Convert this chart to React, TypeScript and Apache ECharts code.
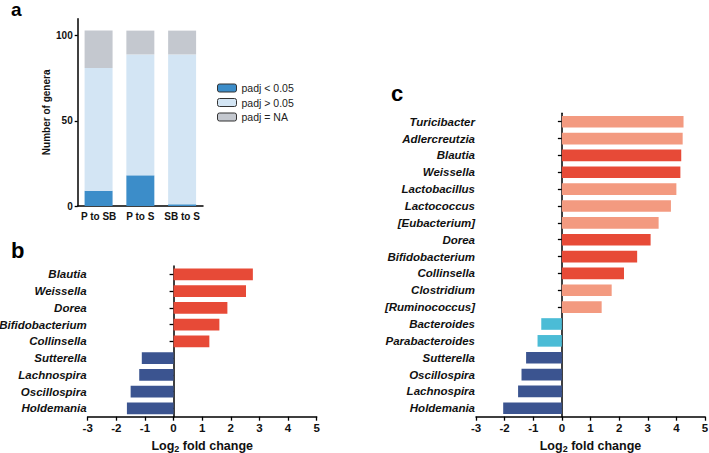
import React, { useEffect, useRef } from "react";
import * as echarts from "echarts";

// Panel a: number of genera per comparison
const comparisons = ["P to SB", "P to S", "SB to S"];
const sigCounts = [9, 18, 1];
const nonSigCounts = [72, 71, 88];
const naCounts = [22, 14, 14];
const aTicks = [0, 50, 100];

// Panel b: log2 fold change (P to SB)
const bGenera = ["Blautia", "Weissella", "Dorea", "Bifidobacterium", "Collinsella", "Sutterella", "Lachnospira", "Oscillospira", "Holdemania"];
const bValues = [2.77, 2.53, 1.88, 1.6, 1.25, -1.11, -1.2, -1.5, -1.63];

// Panel c: log2 fold change (P to S)
const cGenera = ["Turicibacter", "Adlercreutzia", "Blautia", "Weissella", "Lactobacillus", "Lactococcus", "[Eubacterium]", "Dorea", "Bifidobacterium", "Collinsella", "Clostridium", "[Ruminococcus]", "Bacteroides", "Parabacteroides", "Sutterella", "Oscillospira", "Lachnospira", "Holdemania"];
const cValues = [4.25, 4.22, 4.17, 4.14, 4.0, 3.81, 3.38, 3.1, 2.63, 2.17, 1.74, 1.39, -0.72, -0.85, -1.25, -1.41, -1.53, -2.05];

const FONT = '"Liberation Sans", Arial, Helvetica, sans-serif';
const RED = "#e74a37";
const NAVY = "#3b5490";
const SALMON = "#f39a80";
const CYAN = "#4bbcd6";
const BLUE = "#3c8dc9";
const LIGHT = "#d3e5f4";
const GRAY = "#c4c8cf";

export default function App() {
  const ref = useRef<HTMLDivElement>(null);
  useEffect(() => {
    if (!ref.current) return;
    const chart = echarts.init(ref.current, undefined, { renderer: "svg" });

    const catLabelAxis = (grid: number, data: string[]) => ({
      type: "category",
      gridIndex: grid,
      data,
      inverse: true,
      position: "left",
      axisLine: { show: false, onZero: false },
      axisTick: { show: false },
      axisLabel: {
        margin: 1,
        interval: 0,
        fontFamily: FONT,
        fontStyle: "italic",
        fontWeight: "bold",
        fontSize: 11.5,
        color: "#111",
      },
      splitLine: { show: false },
    });
    const zeroAxis = (grid: number, data: string[]) => ({
      type: "category",
      gridIndex: grid,
      data,
      inverse: true,
      position: "left",
      axisLine: { show: true, onZero: true, lineStyle: { color: "#000", width: 1.5 } },
      axisTick: { show: true, interval: 0, alignWithLabel: true, length: 4, lineStyle: { color: "#000", width: 1.3 } },
      axisLabel: { show: false },
      splitLine: { show: false },
    });
    const fcAxis = (grid: number) => ({
      type: "value",
      gridIndex: grid,
      min: -3,
      max: 5,
      interval: 1,
      name: "Log{s|2} fold change",
      nameLocation: "middle",
      nameGap: 21,
      nameTextStyle: {
        fontFamily: FONT,
        fontWeight: "bold",
        fontSize: 12.5,
        color: "#111",
        rich: {
          s: { fontFamily: FONT, fontWeight: "bold", fontSize: 9, color: "#111", verticalAlign: "bottom", padding: [7, 0, 0, 0] },
        },
      },
      axisLine: { show: true, onZero: false, lineStyle: { color: "#000", width: 1.5 } },
      axisTick: { show: true, length: 4, lineStyle: { color: "#000", width: 1.3 } },
      axisLabel: { margin: 5, fontFamily: FONT, fontWeight: "bold", fontSize: 11.5, color: "#111" },
      splitLine: { show: false },
    });

    const cColor = (name: string, v: number) => {
      const shared = bGenera.includes(name);
      if (v >= 0) return shared ? RED : SALMON;
      return shared ? NAVY : CYAN;
    };

    const gridBase = { containLabel: false, outerBoundsMode: "none" };

    chart.setOption({
      animation: false,
      textStyle: { fontFamily: FONT },
      grid: [
        { ...gridBase, left: 77.7, top: 18.7, width: 125.3, height: 187.3 },
        { ...gridBase, left: 87.7, top: 266, width: 229, height: 150.7 },
        { ...gridBase, left: 476, top: 113.3, width: 229, height: 303.4 },
      ],
      legend: {
        orient: "vertical",
        left: 217,
        top: 82,
        padding: 0,
        itemWidth: 19,
        itemHeight: 8,
        itemGap: 2.5,
        selectedMode: false,
        itemStyle: { borderColor: "#333", borderWidth: 1 },
        textStyle: { fontFamily: FONT, fontSize: 10.5, color: "#222", lineHeight: 12 },
        data: ["padj < 0.05", "padj > 0.05", "padj = NA"],
      },
      xAxis: [
        {
          type: "category",
          gridIndex: 0,
          data: comparisons,
          axisLine: { show: true, lineStyle: { color: "#000", width: 1.5 } },
          axisTick: { show: false },
          axisLabel: { interval: 0, hideOverlap: false, margin: 5, fontFamily: FONT, fontWeight: "bold", fontSize: 10, color: "#111" },
        },
        fcAxis(1),
        fcAxis(2),
      ],
      yAxis: [
        {
          type: "value",
          gridIndex: 0,
          min: 0,
          max: 110,
          interval: 50,
          name: "Number of genera",
          nameLocation: "middle",
          nameGap: 26,
          nameTextStyle: { fontFamily: FONT, fontWeight: "bold", fontSize: 10, color: "#111" },
          axisLine: { show: true, lineStyle: { color: "#000", width: 1.5 } },
          axisTick: { show: true, length: 3, customValues: aTicks, lineStyle: { color: "#000", width: 1.3 } },
          axisLabel: { margin: 5, customValues: aTicks, fontFamily: FONT, fontWeight: "bold", fontSize: 10, color: "#111" },
          splitLine: { show: false },
        },
        catLabelAxis(1, bGenera),
        zeroAxis(1, bGenera),
        catLabelAxis(2, cGenera),
        zeroAxis(2, cGenera),
      ],
      series: [
        { type: "bar", name: "padj < 0.05", stack: "a", xAxisIndex: 0, yAxisIndex: 0, barCategoryGap: "33%", data: sigCounts, itemStyle: { color: BLUE } },
        { type: "bar", name: "padj > 0.05", stack: "a", xAxisIndex: 0, yAxisIndex: 0, barCategoryGap: "33%", data: nonSigCounts, itemStyle: { color: LIGHT } },
        { type: "bar", name: "padj = NA", stack: "a", xAxisIndex: 0, yAxisIndex: 0, barCategoryGap: "33%", data: naCounts, itemStyle: { color: GRAY } },
        {
          type: "bar",
          xAxisIndex: 1,
          yAxisIndex: 1,
          barCategoryGap: "30%",
          data: bValues.map((v) => ({ value: v, itemStyle: { color: v >= 0 ? RED : NAVY } })),
        },
        {
          type: "bar",
          xAxisIndex: 2,
          yAxisIndex: 3,
          barCategoryGap: "31%",
          data: cValues.map((v, i) => ({ value: v, itemStyle: { color: cColor(cGenera[i], v) } })),
        },
      ],
      graphic: [
        { type: "text", left: 11, top: 0, style: { text: "a", font: `bold 19px ${FONT}`, fill: "#000" } },
        { type: "text", left: 11, top: 239, style: { text: "b", font: `bold 22px ${FONT}`, fill: "#000" } },
        { type: "text", left: 391, top: 82, style: { text: "c", font: `bold 22px ${FONT}`, fill: "#000" } },
      ],
    });
    return () => chart.dispose();
  }, []);
  return <div ref={ref} style={{ position: "fixed", left: 0, top: 0, width: 709, height: 453, background: "#fff" }} />;
}
